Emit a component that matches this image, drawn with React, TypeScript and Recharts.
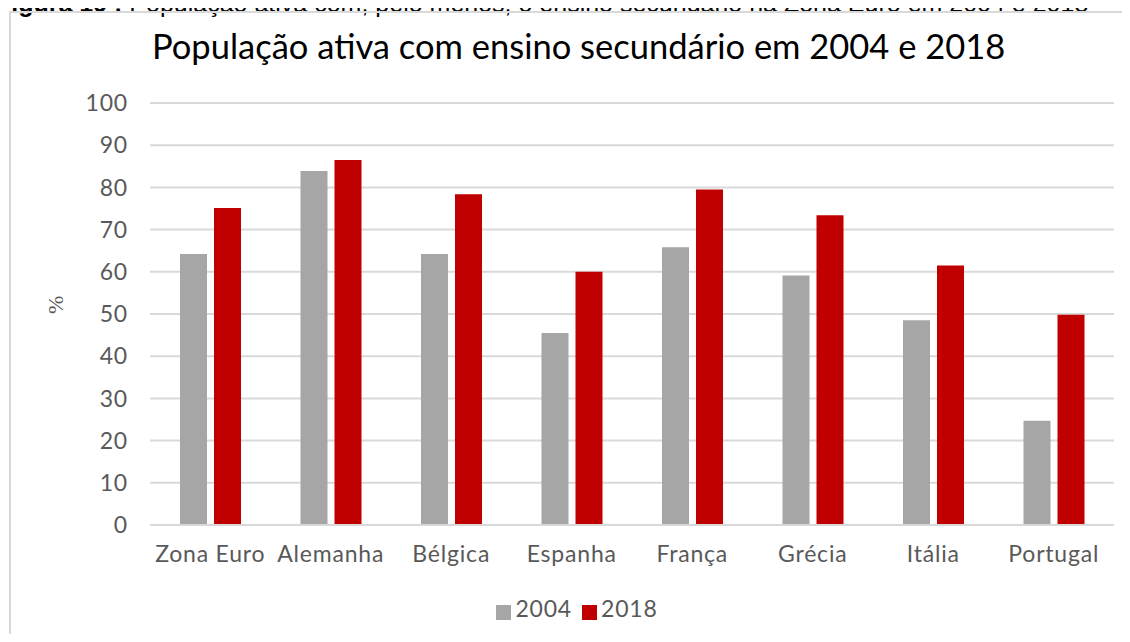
import React from "react";
import { BarChart, Bar, XAxis, YAxis, CartesianGrid, Legend } from "recharts";

const countries = ["Zona Euro", "Alemanha", "Bélgica", "Espanha", "França", "Grécia", "Itália", "Portugal"];
const values2004 = [64.2, 83.9, 64.2, 45.5, 65.8, 59.1, 48.5, 24.7];
const values2018 = [75.1, 86.5, 78.4, 60.0, 79.5, 73.4, 61.5, 49.8];
const yTicks = [0, 10, 20, 30, 40, 50, 60, 70, 80, 90, 100];

const data = countries.map((c, i) => ({ name: c, y2004: values2004[i], y2018: values2018[i] }));

const font = "Lato, 'Open Sans', sans-serif";
const gray = "#595959";

const App = () => {
  return (
    <div style={{ position: "relative", width: 1130, height: 642, margin: -8, overflow: "hidden", background: "#fff", fontFamily: font }}>
      <div style={{ position: "absolute", left: -4, top: -9, fontSize: 25, lineHeight: "25px", whiteSpace: "nowrap", color: "#000", fontFamily: "Arial, sans-serif" }}>
        <b>Figura 19 :</b> População ativa com, pelo menos, o ensino secundário na Zona Euro em 2004 e 2018
      </div>
      <div style={{ position: "absolute", left: 9, top: 11, width: 1200, height: 700, border: "2px solid #d9d9d9" }} />
      <div style={{ position: "absolute", left: 152, top: 25, fontSize: 34.5, color: "#000", whiteSpace: "nowrap" }}>
        População ativa com ensino secundário em 2004 e 2018
      </div>
      <div style={{ position: "absolute", left: 0, top: 0 }}>
        <BarChart width={1130} height={642} data={data} margin={{ top: 103, right: 16, bottom: 20, left: 50 }} barGap={7} barSize={27}>
          <CartesianGrid vertical={false} stroke="#d9d9d9" strokeWidth={2} />
          <XAxis dataKey="name" axisLine={{ stroke: "#d9d9d9", strokeWidth: 2 }} tickLine={false} height={52}
            tick={{ fill: gray, fontSize: 23, fontFamily: font, letterSpacing: 0.8 }} dy={13} interval={0} />
          <YAxis domain={[0, 100]} ticks={yTicks} axisLine={false} tickLine={false} width={100}
            tick={{ fill: gray, fontSize: 23, fontFamily: font, letterSpacing: 0.8 }} dx={-14}
            label={{ value: "%", angle: -90, position: "insideLeft", offset: 5, fill: gray, fontSize: 22, fontFamily: "serif" }} />
          <Legend iconType="square" iconSize={15} height={45} wrapperStyle={{ top: 594 }}
            formatter={(v) => <span style={{ color: gray, fontSize: 23, fontFamily: font, letterSpacing: 0.8 }}>{v}</span>} />
          <Bar dataKey="y2004" name="2004" fill="#a6a6a6" isAnimationActive={false} />
          <Bar dataKey="y2018" name="2018" fill="#c00000" isAnimationActive={false} />
        </BarChart>
      </div>
    </div>
  );
};

export default App;
